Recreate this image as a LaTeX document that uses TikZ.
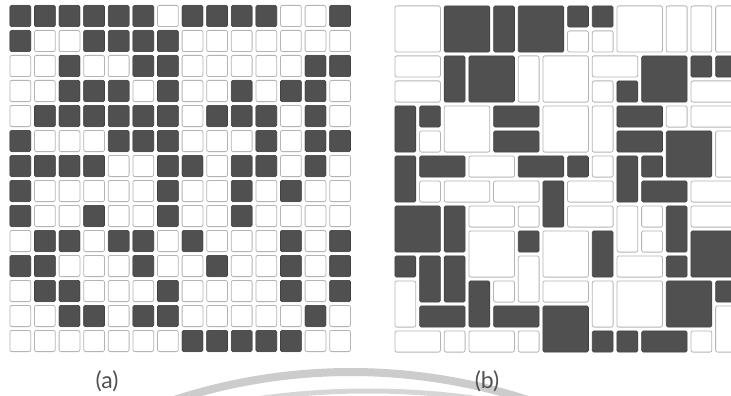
\documentclass[tikz,border=0pt]{standalone}
\usepackage{fontspec}
\newfontfamily\labfont{Lato}
\definecolor{tiledark}{HTML}{505050}
\definecolor{tileedge}{HTML}{B4B4B4}
\tikzset{
  lighttile/.style={draw=tileedge, line width=0.8pt, fill=white, rounded corners=2pt},
  darktile/.style={draw=tiledark!80!black, line width=0.6pt, fill=tiledark, rounded corners=1.5pt},
  sublabel/.style={font=\labfont\fontsize{23}{26}\selectfont, text=black!68, inner sep=0pt},
  wmark/.style={draw=black!20, line cap=round}
}
\begin{document}
\begin{tikzpicture}[x=1pt,y=-1pt]
\useasboundingbox (0,0) rectangle (731,396);
\clip (0,0) rectangle (731,396);
\fill[white] (0,0) rectangle (731,396);
% faint watermark arcs
\draw[wmark, line width=8pt] (351,944) ++(-108:572) arc[start angle=-108, end angle=-72, radius=572];
\draw[wmark, draw=black!16, line width=5pt] (368,1179) ++(-100:788) arc[start angle=-100, end angle=-80, radius=788];
% ---------- (a) regular grid ----------
\def\ax{8}\def\apx{24.6}\def\ay{3.5}\def\apy{25}\def\ins{1.9}
\foreach \r in {0,...,13}{
  \foreach \c in {0,...,13}{
    \draw[lighttile] ({\ax+\c*\apx+\ins},{\ay+\r*\apy+\ins}) rectangle ({\ax+(\c+1)*\apx-\ins},{\ay+(\r+1)*\apy-\ins});
  }
}
\foreach \r/\cl in {
  0/{0,1,2,3,4,5,7,8,9,10,13},
  1/{0,3,4,5,6},
  2/{2,5,6,12,13},
  3/{2,3,4,6,9,11,12},
  4/{1,2,3,4,5,6,8,9,10,12},
  5/{0,4,5,6,10,12,13},
  6/{0,1,2,3,6,7,9,10,12},
  7/{0,6,9,11},
  8/{0,3,6,9},
  9/{1,2,4,5,7,11,13},
  10/{0,1,5,8,11,13},
  11/{1,2,6,11,13},
  12/{2,3,5,6,12},
  13/{7,8,9,10,11}}{
  \foreach \c in \cl {
    \draw[darktile] ({\ax+\c*\apx+\ins},{\ay+\r*\apy+\ins}) rectangle ({\ax+(\c+1)*\apx-\ins},{\ay+(\r+1)*\apy-\ins});
  }
}
% ---------- (b) mosaic ----------
\def\bx{393}\def\bpx{24.67}\def\by{4}\def\bpy{25}
\foreach \c/\r/\w/\h in {
  0/0/2/2, 7/1/1/1, 8/1/1/1, 9/0/2/2, 11/0/1/2, 12/0/1/2, 13/0/1/2,
  0/2/2/1, 0/3/2/1, 5/2/1/2, 6/2/2/2, 8/2/2/1, 8/3/1/1, 12/3/2/1,
  1/5/1/1, 2/4/2/2, 6/4/2/2, 8/4/1/2, 11/4/1/1, 12/4/2/1, 13/5/1/2,
  3/6/2/1, 8/6/1/1,
  1/7/1/1, 2/7/2/1, 4/7/2/1, 7/7/2/1, 12/7/2/1,
  3/8/2/1, 5/8/1/1, 7/8/2/1, 9/8/1/2, 10/8/1/1, 12/8/2/1,
  3/9/2/2, 6/9/2/2, 10/9/1/1,
  5/10/1/2, 9/10/2/1,
  0/11/1/2, 4/11/1/1, 6/11/2/1, 8/11/1/2, 9/11/2/2,
  13/12/1/2,
  0/13/2/1, 2/13/1/1, 3/13/2/1, 5/13/1/1, 12/13/1/1}{
  \draw[lighttile] ({\bx+\c*\bpx+\ins},{\by+\r*\bpy+\ins}) rectangle ({\bx+(\c+\w)*\bpx-\ins},{\by+(\r+\h)*\bpy-\ins});
}
\foreach \c/\r/\w/\h in {
  2/0/2/2, 4/0/1/2, 5/0/2/2, 7/0/1/1, 8/0/1/1,
  2/2/1/2, 3/2/2/2, 9/3/1/1, 10/2/2/2, 12/2/1/1, 13/2/1/1,
  0/4/1/2, 1/4/1/1, 4/4/2/1, 4/5/2/1, 9/4/2/1, 9/5/2/1, 11/5/2/2,
  0/6/1/2, 1/6/2/1, 5/6/2/1, 7/6/1/1, 9/6/1/2, 10/6/1/1,
  6/7/1/2, 10/7/2/1,
  0/8/2/2, 2/8/1/2, 11/8/1/2,
  5/9/1/1, 8/9/1/2, 12/9/2/2,
  0/10/1/1, 1/10/1/2, 2/10/1/2, 11/10/1/1,
  3/11/1/2, 11/11/2/2, 13/11/1/1,
  1/12/2/1, 4/12/2/1, 6/12/2/2,
  8/13/1/1, 9/13/1/1, 10/13/2/1}{
  \draw[darktile] ({\bx+\c*\bpx+\ins},{\by+\r*\bpy+\ins}) rectangle ({\bx+(\c+\w)*\bpx-\ins},{\by+(\r+\h)*\bpy-\ins});
}
% ---------- labels ----------
\node[sublabel] (laba) at (107,381) {(a)};
\node[sublabel] (labb) at (487,381) {(b)};
\end{tikzpicture}
\end{document}
